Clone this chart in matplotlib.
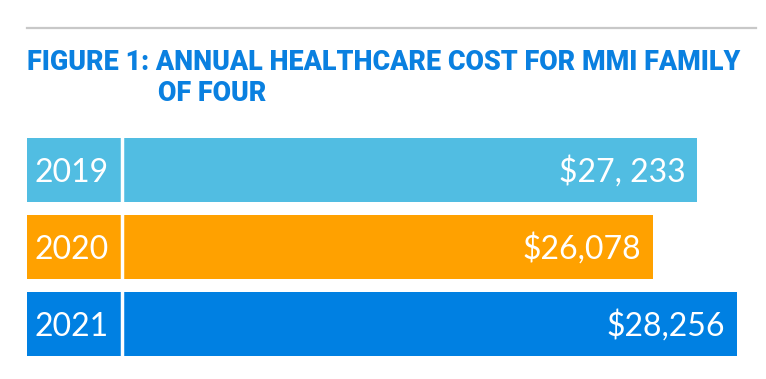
import matplotlib
matplotlib.use('Agg')
import matplotlib.pyplot as plt
from matplotlib import font_manager as fm
from matplotlib.lines import Line2D

years = ['2019', '2020', '2021']
values = [27233, 26078, 28256]
value_labels = ['$27, 233', '$26,078', '$28,256']
colors = ['#51BDE2', '#FFA100', '#0080E2']
title_line1 = 'FIGURE 1: ANNUAL HEALTHCARE COST FOR MMI FAMILY'
title_line2 = 'OF FOUR'

names = {f.name for f in fm.fontManager.ttflist}
title_font = 'Liberation Sans Narrow' if 'Liberation Sans Narrow' in names else 'Roboto'

W, H = 766, 379
fig = plt.figure(figsize=(W / 100, H / 100), dpi=100)


def fx(px):
    return px / W


def fy(py):
    return 1 - py / H


ax = fig.add_axes([fx(27), fy(362.5), fx(742) - fx(27), (362.5 - 131.5) / H])
x0, x1 = 9857, 28390
ax.set_xlim(x0, x1)
ax.set_ylim(2.5, -0.5)
ax.barh(range(len(years)), [v - x0 for v in values], left=x0, height=0.83,
        color=colors)
ax.axis('off')

sep = (122.3 - 27) / 715
ax.plot([sep, sep], [-0.5, 2.5], transform=ax.get_yaxis_transform(),
        color='white', lw=2.5, solid_capstyle='butt')

for i, (yr, v, lab) in enumerate(zip(years, values, value_labels)):
    ax.annotate(yr, xy=((34 - 27) / 715, i), xycoords=ax.get_yaxis_transform(),
                xytext=(0, -8.3), textcoords='offset points', ha='left',
                va='baseline', color='white', fontsize=23, family='Lato')
    ax.annotate(lab, xy=(v, i), xytext=(-8.6, -8.3), textcoords='offset points',
                ha='right', va='baseline', color='white', fontsize=23,
                family='Lato')

fig.add_artist(Line2D([fx(27), fx(756)], [fy(27.5)] * 2, color='#C8C8C8', lw=1.6))

tkw = dict(color='#0A80E0', fontweight='heavy', family=title_font, va='baseline')
t1 = fig.text(fx(27), fy(70), title_line1, fontsize=18, **tkw)
t2 = fig.text(fx(158), fy(101), title_line2, fontsize=18, **tkw)
fig.canvas.draw()
w = t1.get_window_extent().width
fs = 18 * 714 / w
t1.set_fontsize(fs)
t2.set_fontsize(fs)

fig.savefig('out.png', dpi=100)
